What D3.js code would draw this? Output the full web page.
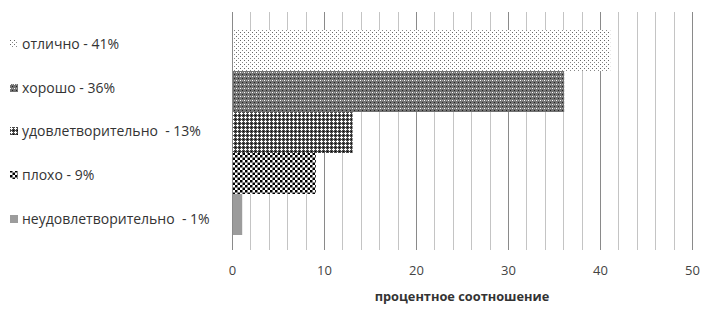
<!DOCTYPE html>
<html>
<head>
<meta charset="utf-8">
<script src="https://cdn.jsdelivr.net/npm/d3@7"></script>
<style>
  body { margin: 0; background: #fff; }
  svg { display: block; font-family: "Open Sans", "Liberation Sans", sans-serif; }
  text { white-space: pre; }
</style>
</head>
<body>
<div id="chart"></div>
<script>
// categories top to bottom
const categories = ['отлично', 'хорошо', 'удовлетворительно', 'плохо', 'неудовлетворительно'];
const values = [41, 36, 13, 9, 1];
const legendLabels = ['отлично - 41%', 'хорошо - 36%', 'удовлетворительно  - 13%', 'плохо - 9%', 'неудовлетворительно  - 1%'];
const xTicks = [0, 10, 20, 30, 40, 50];
const xTitle = 'процентное соотношение';

const width = 703, height = 310;
const svg = d3.select('#chart').append('svg')
  .attr('width', width)
  .attr('height', height);

const defs = svg.append('defs');

// fill patterns, one per category
function makePattern(id, size, bg, cells) {
  const p = defs.append('pattern')
    .attr('id', id)
    .attr('patternUnits', 'userSpaceOnUse')
    .attr('width', size)
    .attr('height', size);
  p.append('rect').attr('width', size).attr('height', size).attr('fill', bg);
  cells.forEach(([x, y, w, h, c]) => {
    p.append('rect').attr('x', x).attr('y', y).attr('width', w).attr('height', h).attr('fill', c);
  });
}
makePattern('p0', 4, '#fff', [[0, 0, 1, 1, '#666'], [2, 2, 1, 1, '#888']]);
makePattern('p1', 4, '#727272', [[0, 0, 1, 1, '#fff'], [2, 2, 1, 1, '#222'], [2, 0, 1, 1, '#b0b0b0']]);
makePattern('p2', 4, '#4a4a4a', [[1, 0, 1, 3, '#fff'], [0, 1, 3, 1, '#fff'], [3, 3, 1, 1, '#000']]);
makePattern('p3', 5, '#fff', [[0, 0, 2.5, 2.5, '#000'], [2.5, 2.5, 2.5, 2.5, '#000']]);
makePattern('p4', 4, '#9c9c9c', []);
const fills = categories.map((d, i) => `url(#p${i})`);

const x = d3.scaleLinear().domain([0, 50]).range([232, 692]);
const y = d3.scaleBand().domain(categories).range([30, 235]).padding(0);

// vertical gridlines every 2 units
const grid = svg.append('g');
grid.selectAll('line')
  .data(d3.range(0, 51, 2))
  .join('line')
  .attr('x1', d => Math.round(x(d)) + 0.5)
  .attr('x2', d => Math.round(x(d)) + 0.5)
  .attr('y1', 12)
  .attr('y2', 250)
  .attr('stroke', d => d % 10 === 0 ? '#8a8a8a' : '#c4c4c4')
  .attr('stroke-width', 1);

// bars
svg.append('g')
  .selectAll('rect')
  .data(values)
  .join('rect')
  .attr('x', x(0) + 1)
  .attr('y', (d, i) => y(categories[i]))
  .attr('width', d => x(d) - x(0))
  .attr('height', y.bandwidth())
  .attr('fill', (d, i) => fills[i]);

// x axis labels
const axis = svg.append('g')
  .attr('transform', 'translate(0,250)')
  .call(d3.axisBottom(x).tickValues(xTicks).tickSize(0).tickPadding(16));
axis.select('.domain').remove();
axis.selectAll('text')
  .attr('font-size', 13)
  .attr('fill', '#444')
  .attr('font-family', '"Open Sans", sans-serif');

svg.append('text')
  .attr('x', x(25))
  .attr('y', 301)
  .attr('text-anchor', 'middle')
  .attr('font-size', 12.8)
  .attr('font-weight', 'bold')
  .attr('fill', '#333')
  .text(xTitle);

// legend on the left
const legendY = [44, 88, 131, 175, 219];
const legend = svg.append('g')
  .selectAll('g')
  .data(legendLabels)
  .join('g')
  .attr('transform', (d, i) => `translate(10,${legendY[i]})`);
legend.append('rect')
  .attr('x', 0)
  .attr('y', -4)
  .attr('width', 8)
  .attr('height', 8)
  .attr('fill', (d, i) => fills[i]);
legend.append('text')
  .attr('x', 12)
  .attr('dy', '0.35em')
  .attr('font-size', 14)
  .attr('fill', '#333')
  .text(d => d);
</script>
</body>
</html>
